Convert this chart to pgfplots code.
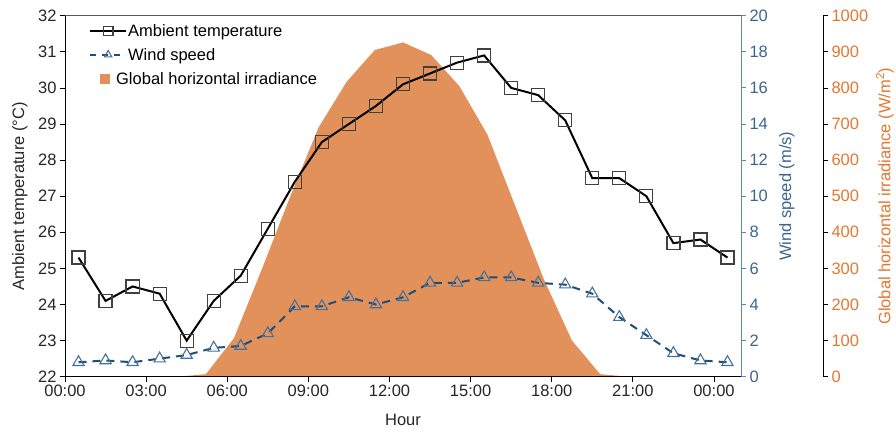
\documentclass[border=0pt]{standalone}
\usepackage{pgfplots}
\pgfplotsset{compat=1.18}
\usepackage{fontspec}
\setmainfont{Liberation Sans}
\definecolor{ghi}{RGB}{227,145,90}
\definecolor{ghitext}{RGB}{228,118,48}
\definecolor{windline}{RGB}{31,78,121}
\definecolor{windmark}{RGB}{68,114,157}
\definecolor{windaxis}{RGB}{91,135,181}
\definecolor{windtext}{RGB}{60,100,145}
\definecolor{tempmark}{RGB}{64,64,64}
\definecolor{txt}{RGB}{38,38,38}
\newcommand{\fs}{\fontsize{16.5}{19}\selectfont}
\pgfplotsset{
  base/.style={scale only axis, width=676pt, height=361pt, xmin=0, xmax=25,
    tick align=outside, major tick length=5pt,
    tick label style={font=\fs},
    label style={font=\fs},
    /pgf/number format/assume math mode=true,
    /pgf/number format/1000 sep={},
  },
  longleg/.style={legend image code/.code={\draw[mark repeat=2,mark phase=2,##1] plot coordinates {(0pt,0pt) (18pt,0pt) (36pt,0pt)};}},
  sqleg/.style={legend image code/.code={\fill[ghi] (10pt,-4.5pt) rectangle (19pt,4.5pt);}},
}
\begin{document}
\begin{tikzpicture}
\path[use as bounding box] (-65pt,-55.3pt) rectangle (831pt,376.7pt);
% GHI axis
\begin{axis}[base, axis x line=none, axis y line*=right, ymin=0, ymax=1000, ytick distance=100,
  axis y line shift=82pt,
  y axis line style={black, line width=0.8pt}, ytick style={black, line width=0.8pt},
  yticklabel style={text=ghitext},
  ylabel={Global horizontal irradiance (W/m\textsuperscript{2})},
  ylabel style={text=ghitext, at={(axis description cs:1.213,0.5)}, anchor=center, rotate=0},
]
\addplot[fill=ghi, draw=none] coordinates {
(0,0) (1.0417,0) (2.0833,0) (3.125,0) (4.1667,0) (5.2083,7) (6.25,107) (7.2917,300)
(8.3333,500) (9.375,690) (10.4167,817) (11.4583,905) (12.5,926) (13.5417,891)
(14.5833,805) (15.625,670) (16.6667,470) (17.7083,270) (18.75,100) (19.7917,7)
(20.8333,0) (21.875,0) (22.9167,0) (23.9583,0) (25,0)} \closedcycle;
\end{axis}
% Wind axis
\begin{axis}[base, axis x line=none, axis y line*=right, ymin=0, ymax=20, ytick distance=2,
  y axis line style={windaxis, line width=1pt}, ytick style={windaxis, line width=1pt},
  yticklabel style={text=windtext},
  ylabel={Wind speed (m/s)},
  ylabel style={text=windtext, at={(axis description cs:1.068,0.5)}, anchor=center, rotate=0},
]
\addplot[windline, line width=2pt, dash pattern=on 8pt off 6pt, mark=triangle,
  mark size=6.5pt, mark options={solid, draw=windmark, line width=1.1pt}] coordinates {
(0.5,0.8) (1.5,0.9) (2.5,0.8) (3.5,1.0) (4.5,1.2) (5.5,1.6) (6.5,1.7) (7.5,2.4)
(8.5,3.9) (9.5,3.9) (10.5,4.4) (11.5,4.0) (12.5,4.4) (13.5,5.2) (14.5,5.2) (15.5,5.5)
(16.5,5.5) (17.5,5.2) (18.5,5.1) (19.5,4.6) (20.5,3.3) (21.5,2.3) (22.5,1.3) (23.5,0.9)
(24.5,0.8)};
\end{axis}
% Temperature axis
\begin{axis}[base, axis x line*=bottom, axis y line*=left, ymin=22, ymax=32, ytick distance=1,
  xtick={0,3,...,24}, xticklabels={00:00,03:00,06:00,09:00,12:00,15:00,18:00,21:00,00:00},
  axis line style={black, line width=0.8pt}, tick style={black, line width=0.8pt},
  ticklabel style={text=txt},
  xlabel={Hour}, ylabel={Ambient temperature (\textdegree C)},
  xlabel style={text=txt, at={(axis description cs:0.5,-0.119)}, anchor=center},
  ylabel style={text=txt, at={(axis description cs:-0.0666,0.5)}, anchor=center},
  legend style={at={(axis description cs:0.031,0.99)}, anchor=north west, draw=none, fill=none,
    font=\fs, text=black, row sep=5pt, column sep=0pt, nodes={inner xsep=1pt}},
  legend cell align=left,
]
\addlegendimage{black, line width=2pt, mark=square, mark size=4.8pt,
  mark options={draw=tempmark, line width=1.2pt}, longleg}
\addlegendentry{\strut Ambient temperature}
\addlegendimage{windline, line width=2pt, dash pattern=on 6pt off 6pt, mark=triangle,
  mark size=4.2pt, mark options={solid, draw=windmark, line width=1.1pt}, longleg}
\addlegendentry{\strut Wind speed}
\addlegendimage{sqleg}
\addlegendentry{\strut\hspace*{-12pt}Global horizontal irradiance}
\draw[black!65, line width=0.8pt] (rel axis cs:0,1) -- (rel axis cs:1,1);
\addplot[black, line width=2pt, mark=square, mark size=6.5pt,
  mark options={draw=tempmark, line width=1.2pt}, forget plot]
coordinates {
(0.5,25.3) (1.5,24.1) (2.5,24.5) (3.5,24.3) (4.5,23.0) (5.5,24.1) (6.5,24.8) (7.5,26.1)
(8.5,27.4) (9.5,28.5) (10.5,29.0) (11.5,29.5) (12.5,30.1) (13.5,30.4) (14.5,30.7) (15.5,30.9)
(16.5,30.0) (17.5,29.8) (18.5,29.1) (19.5,27.5) (20.5,27.5) (21.5,27.0) (22.5,25.7) (23.5,25.8)
(24.5,25.3)};
\end{axis}
\end{tikzpicture}
\end{document}
